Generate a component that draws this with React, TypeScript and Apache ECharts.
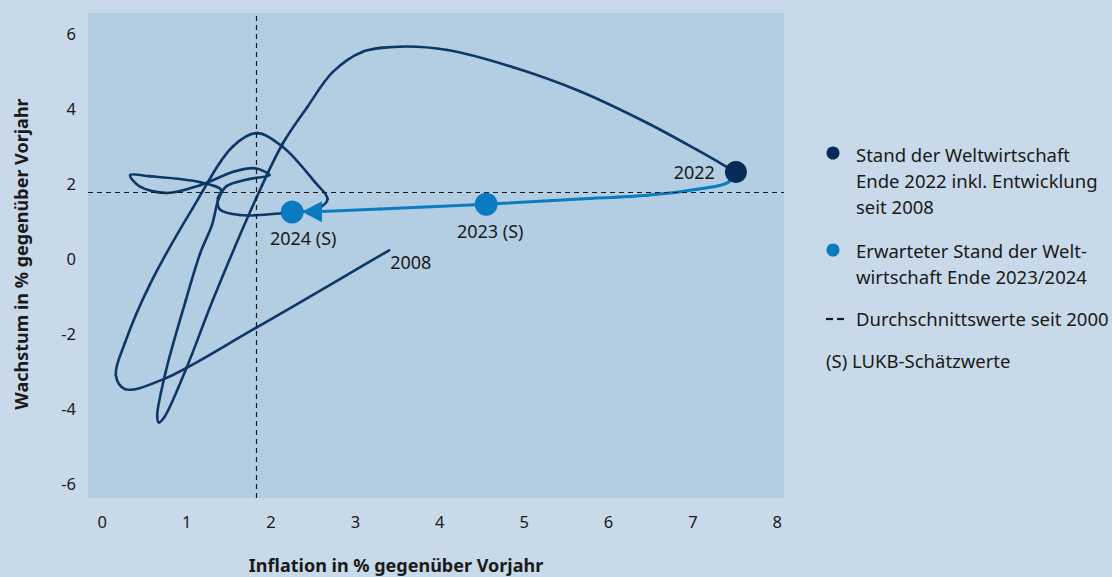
import React, { useEffect, useRef } from "react";
import * as echarts from "echarts";

// ---- data ----
const X_TICKS = [0, 1, 2, 3, 4, 5, 6, 7, 8];
const Y_TICKS = [-6, -4, -2, 0, 2, 4, 6];
const X_TITLE = "Inflation in % gegenüber Vorjahr";
const Y_TITLE = "Wachstum in % gegenüber Vorjahr";

// averages since 2000 (dashed lines)
const AVG_INFLATION = 1.83;
const AVG_GROWTH = 1.77;

// traced path of the world economy 2008 -> 2022 (inflation, growth)
const HISTORY_PATH: [number, number][] = [
  [3.4, 0.22], [1.83, -1.84], [0.72, -3.23], [0.27, -3.49], [0.16, -3.12],
  [0.27, -2.24], [0.56, -0.71], [1.07, 1.34], [1.55, 3.0], [1.83, 3.35],
  [2.14, 2.98], [2.52, 2.04], [2.67, 1.59], [2.56, 1.34], [2.13, 1.21],
  [1.63, 1.16], [1.39, 1.32], [1.37, 1.61], [1.41, 1.83], [1.16, 2.04],
  [0.56, 2.2], [0.33, 2.23], [0.44, 1.93], [0.77, 1.75], [1.16, 1.96],
  [1.57, 2.33], [1.81, 2.41], [1.98, 2.23], [1.73, 2.12], [1.47, 1.93],
  [1.38, 1.6], [1.3, 0.9], [1.16, 0.14], [0.99, -1.11], [0.75, -3.04],
  [0.65, -4.22], [0.67, -4.38], [0.74, -4.22], [1.0, -2.91], [1.31, -1.11],
  [1.83, 1.64], [2.14, 3.08], [2.43, 4.05], [2.73, 4.98], [3.08, 5.52],
  [3.53, 5.66], [4.09, 5.57], [4.87, 5.11], [5.66, 4.47], [6.46, 3.62],
  [7.05, 2.9], [7.51, 2.31],
];

// expected path 2022 -> 2024 (S), ending at the arrow head
const FORECAST_PATH: [number, number][] = [
  [7.51, 2.31], [7.42, 2.04], [7.05, 1.85], [6.46, 1.69], [5.66, 1.59],
  [4.55, 1.45], [3.29, 1.32], [2.485, 1.25],
];
const ARROW_HEAD: [number, number] = [2.485, 1.25];

const START_LABEL = "2008";
const START_POINT: [number, number] = [3.4, 0.22];
const STATE_LABEL = "2022";
const STATE_POINT: [number, number] = [7.51, 2.31];
const FORECAST_LABELS = ["2023 (S)", "2024 (S)"];
const FORECAST_POINTS: [number, number][] = [[4.55, 1.45], [2.25, 1.24]];

const LEGEND_DARK = ["Stand der Weltwirtschaft", "Ende 2022 inkl. Entwicklung", "seit 2008"];
const LEGEND_LIGHT = ["Erwarteter Stand der Welt-", "wirtschaft Ende 2023/2024"];
const LEGEND_AVG = "Durchschnittswerte seit 2000";
const LEGEND_EST = "(S) LUKB-Schätzwerte";

// ---- styles ----
const FONT = "'Noto Sans', Lato, sans-serif";
const DARK = "#0d3764";
const DARK_DOT = "#062b57";
const LIGHT = "#0a7bc1";
const TEXT = "#1a1a1a";
const BG = "#c8d9e9";
const PLOT_BG = "#b3cde2";

// centripetal Catmull-Rom through pixel points -> bezier segments
function bezierSegments(pts: number[][], stroke: string, lineWidth: number) {
  const dist = (a: number[], b: number[]) => Math.hypot(a[0] - b[0], a[1] - b[1]);
  const out: any[] = [];
  for (let i = 0; i < pts.length - 1; i++) {
    const p0 = pts[i - 1] || pts[i];
    const p1 = pts[i];
    const p2 = pts[i + 1];
    const p3 = pts[i + 2] || pts[i + 1];
    const d1 = Math.sqrt(dist(p0, p1));
    const d2 = Math.sqrt(dist(p1, p2));
    const d3 = Math.sqrt(dist(p2, p3));
    let c1: number[];
    let c2: number[];
    if (d1 < 1e-6) {
      c1 = [p1[0] + (p2[0] - p1[0]) / 3, p1[1] + (p2[1] - p1[1]) / 3];
    } else {
      const a = d1 * d1, b = d2 * d2, k = 2 * a + 3 * d1 * d2 + b, den = 3 * d1 * (d1 + d2);
      c1 = [0, 1].map((j) => (a * p2[j] - b * p0[j] + k * p1[j]) / den);
    }
    if (d3 < 1e-6) {
      c2 = [p2[0] - (p2[0] - p1[0]) / 3, p2[1] - (p2[1] - p1[1]) / 3];
    } else {
      const a = d3 * d3, b = d2 * d2, k = 2 * a + 3 * d3 * d2 + b, den = 3 * d3 * (d3 + d2);
      c2 = [0, 1].map((j) => (a * p1[j] - b * p3[j] + k * p2[j]) / den);
    }
    out.push({
      type: "bezierCurve",
      shape: {
        x1: p1[0], y1: p1[1], x2: p2[0], y2: p2[1],
        cpx1: c1[0], cpy1: c1[1], cpx2: c2[0], cpy2: c2[1],
      },
      style: { stroke, lineWidth, fill: "none", lineCap: "round", lineJoin: "round" },
    });
  }
  return out;
}

function pathSeries(path: [number, number][], color: string, width: number, z: number) {
  return {
    type: "custom",
    coordinateSystem: "cartesian2d",
    data: path,
    encode: { x: 0, y: 1 },
    silent: true,
    clip: false,
    z,
    renderItem: (params: any, api: any) => {
      if (params.dataIndex !== 0) return null;
      const pts = path.map((p) => api.coord(p));
      return { type: "group", children: bezierSegments(pts, color, width) };
    },
  };
}

export default function App() {
  const ref = useRef<HTMLDivElement>(null);

  useEffect(() => {
    if (!ref.current) return;
    const chart = echarts.init(ref.current, undefined, { renderer: "svg" });

    const legendText = (text: string, x: number, y: number) => ({
      type: "text",
      x,
      y,
      silent: true,
      style: {
        text,
        fill: TEXT,
        fontSize: 18.5,
        fontFamily: FONT,
        align: "left",
        verticalAlign: "middle",
      },
    });

    const titleStyle = {
      fill: TEXT,
      fontSize: 18,
      fontWeight: "bold",
      fontFamily: FONT,
      align: "center",
      verticalAlign: "middle",
    };

    const graphics: any[] = [
      { type: "text", x: 21, y: 254, rotation: Math.PI / 2, silent: true, style: { text: Y_TITLE, ...titleStyle } },
      { type: "text", x: 396, y: 565, silent: true, style: { text: X_TITLE, ...titleStyle } },
      { type: "circle", shape: { cx: 833, cy: 153, r: 6.5 }, style: { fill: DARK_DOT }, silent: true },
      ...LEGEND_DARK.map((t, i) => legendText(t, 856, 154 + i * 26)),
      { type: "circle", shape: { cx: 833, cy: 250, r: 6.5 }, style: { fill: LIGHT }, silent: true },
      ...LEGEND_LIGHT.map((t, i) => legendText(t, 856, 250 + i * 26)),
      { type: "line", shape: { x1: 826, y1: 319, x2: 833, y2: 319 }, style: { stroke: TEXT, lineWidth: 2.2 }, silent: true },
      { type: "line", shape: { x1: 837, y1: 319, x2: 844, y2: 319 }, style: { stroke: TEXT, lineWidth: 2.2 }, silent: true },
      legendText(LEGEND_AVG, 856, 318),
      legendText(LEGEND_EST, 826, 360),
    ];

    chart.setOption({
      animation: false,
      backgroundColor: BG,
      textStyle: { fontFamily: FONT },
      grid: {
        left: 88,
        top: 13,
        right: 328,
        bottom: 79,
        show: true,
        backgroundColor: PLOT_BG,
        borderWidth: 0,
      },
      xAxis: {
        type: "value",
        min: -0.17,
        max: 8.08,
        axisLine: { show: false },
        axisTick: { show: false },
        splitLine: { show: false },
        axisLabel: { customValues: X_TICKS, fontSize: 16.5, color: TEXT, fontFamily: FONT, margin: 15 },
      },
      yAxis: {
        type: "value",
        min: -6.4,
        max: 6.56,
        axisLine: { show: false },
        axisTick: { show: false },
        splitLine: { show: false },
        axisLabel: { customValues: Y_TICKS, fontSize: 16.5, color: TEXT, fontFamily: FONT, margin: 12 },
      },
      graphic: graphics,
      series: [
        {
          type: "line",
          name: "avg",
          data: [[AVG_INFLATION, AVG_GROWTH]],
          symbol: "none",
          lineStyle: { opacity: 0 },
          silent: true,
          z: 1,
          markLine: {
            silent: true,
            symbol: "none",
            label: { show: false },
            lineStyle: { color: "#1a1a1a", type: [5, 4], width: 1.2 },
            data: [{ xAxis: AVG_INFLATION }, { yAxis: AVG_GROWTH }],
          },
        },
        pathSeries(HISTORY_PATH, DARK, 2.6, 3),
        pathSeries(FORECAST_PATH, LIGHT, 3, 4),
        {
          type: "scatter",
          name: "points",
          silent: true,
          z: 5,
          itemStyle: { opacity: 1 },
          label: { color: TEXT, fontSize: 18, fontFamily: FONT },
          data: [
            {
              value: ARROW_HEAD,
              symbol: "triangle",
              symbolSize: [21, 20],
              symbolRotate: 90,
              itemStyle: { color: LIGHT, opacity: 1 },
            },
            {
              value: STATE_POINT,
              symbolSize: 22,
              itemStyle: { color: DARK_DOT, opacity: 1 },
              label: { show: true, formatter: STATE_LABEL, position: "left", distance: 10 },
            },
            ...FORECAST_POINTS.map((p, i) => ({
              value: p,
              symbolSize: 23,
              itemStyle: { color: LIGHT, opacity: 1 },
              label: {
                show: true,
                formatter: FORECAST_LABELS[i],
                position: "bottom",
                distance: 6,
                offset: i === 1 ? [11, -1] : [4, 0],
              },
            })),
            {
              value: START_POINT,
              symbolSize: 0,
              itemStyle: { color: "transparent" },
              label: { show: true, formatter: START_LABEL, position: "right", distance: 1, offset: [0, 12] },
            },
          ],
        },
      ],
    });

    return () => chart.dispose();
  }, []);

  return (
    <div
      ref={ref}
      style={{ position: "fixed", left: 0, top: 0, width: 1112, height: 577 }}
    />
  );
}
